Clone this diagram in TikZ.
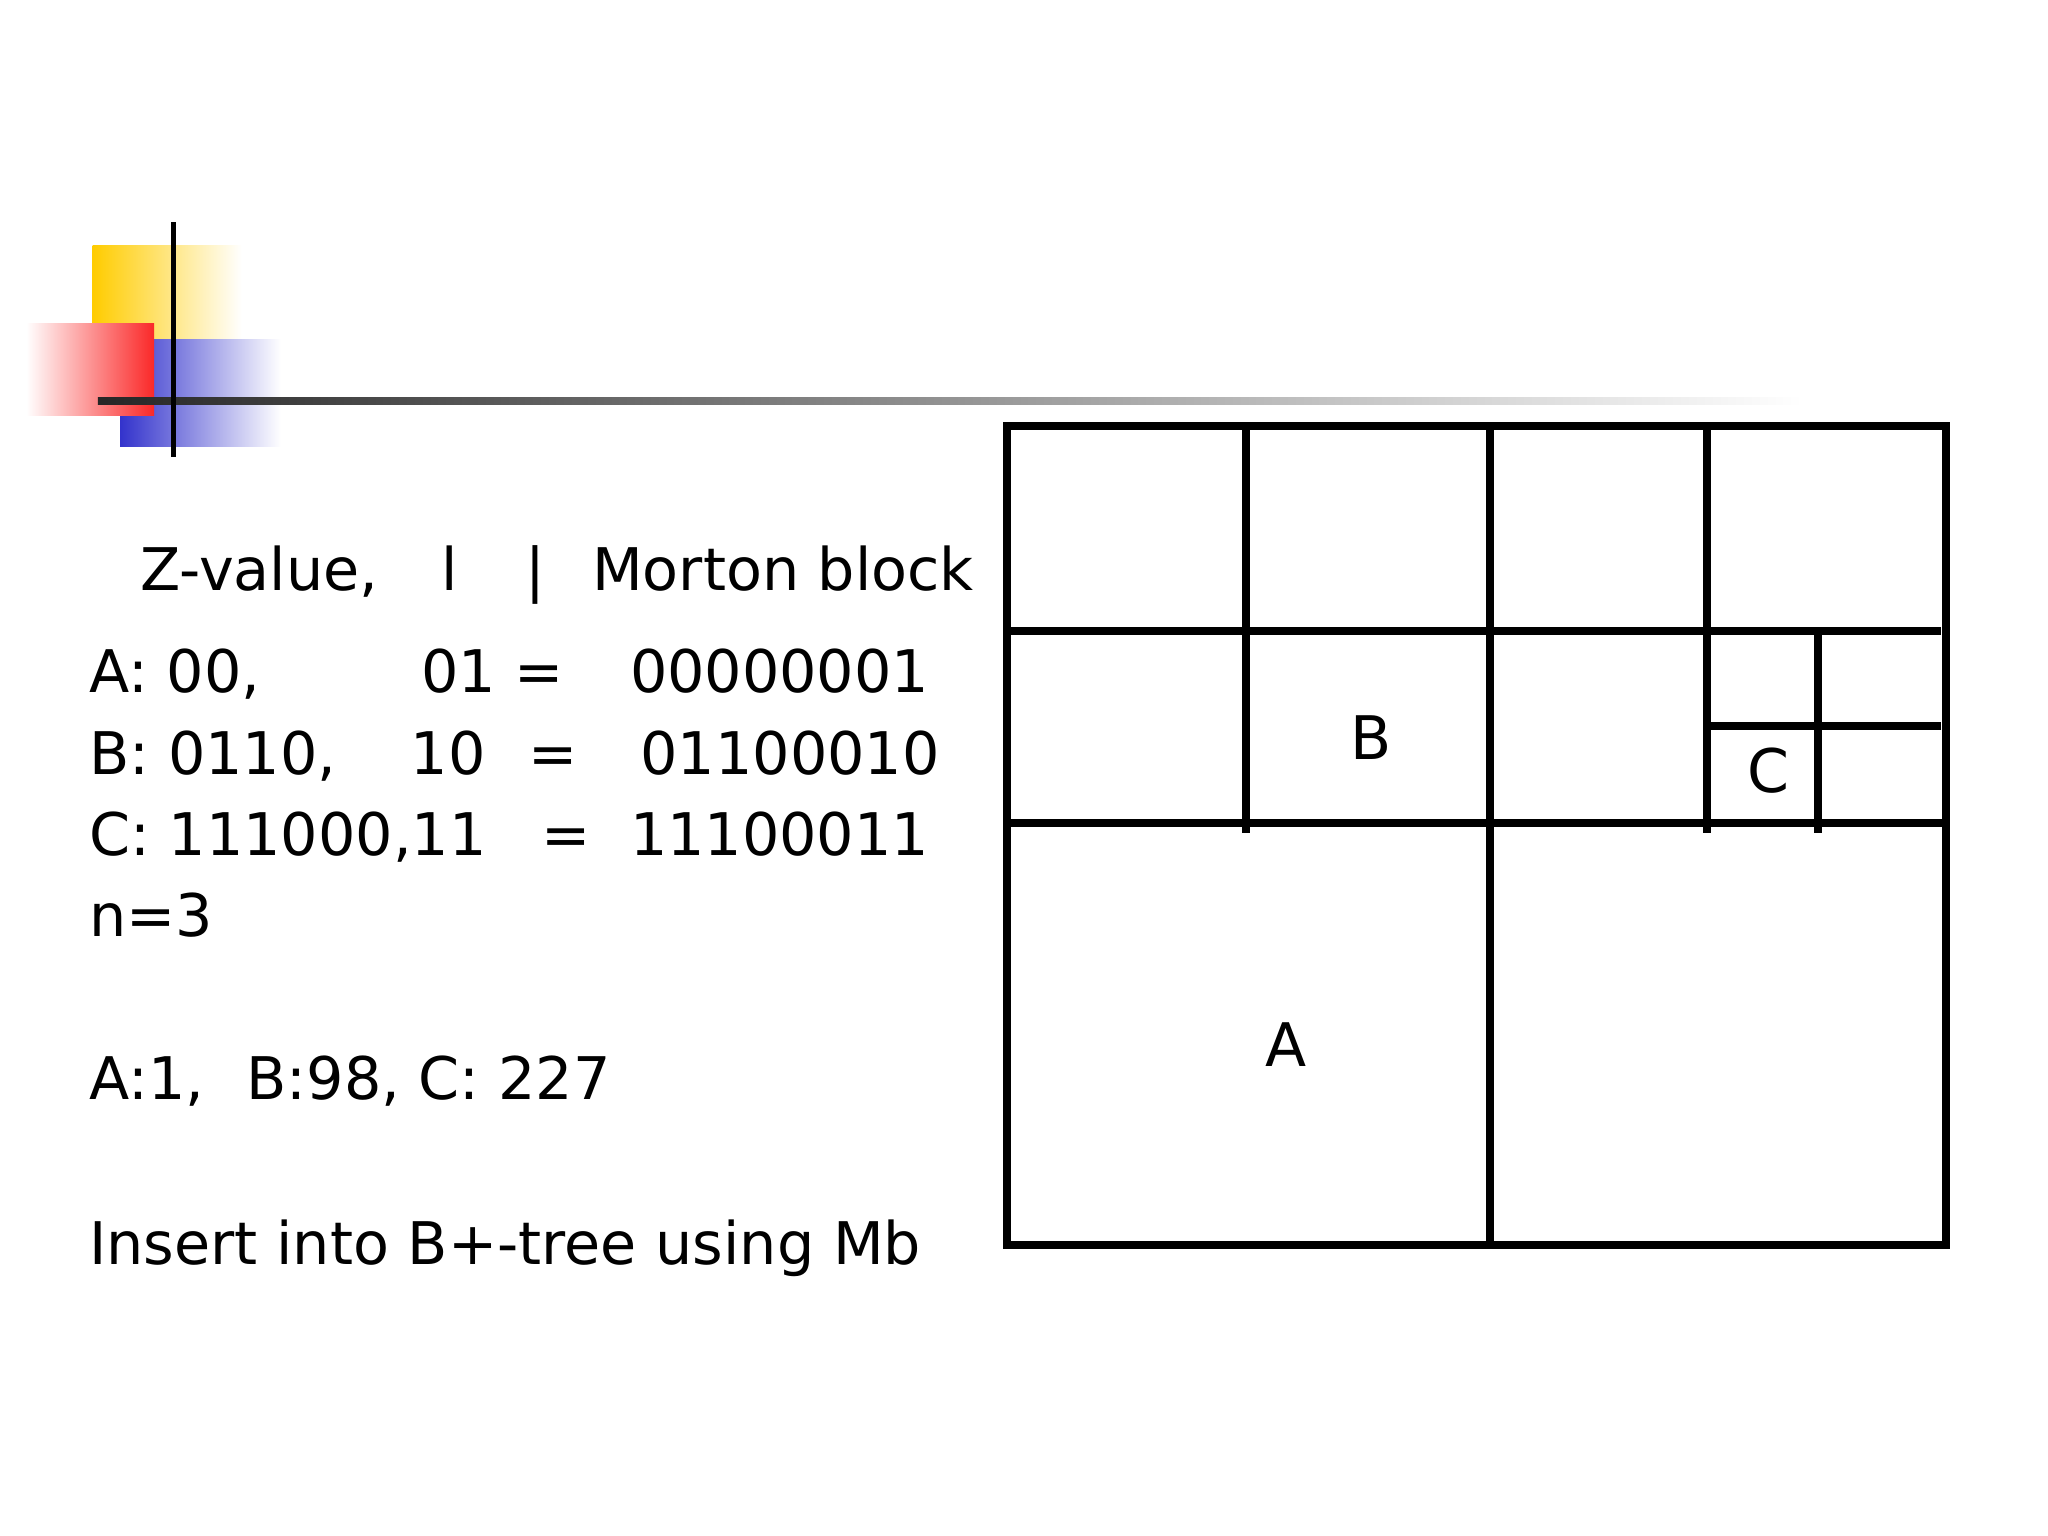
\documentclass[tikz,border=0pt]{standalone}
\usepackage{fontspec}
\setmainfont{DejaVu Sans}
\definecolor{logoyellow}{RGB}{255,204,0}
\definecolor{logoblue}{RGB}{51,51,204}
\definecolor{logored}{RGB}{250,40,40}
\begin{document}
\begin{tikzpicture}[x=0.5pt,y=-0.5pt,
  txt/.style={anchor=base west,inner sep=0pt,font=\fontsize{22.5}{26}\selectfont},
  lbl/.style={inner sep=0pt,font=\fontsize{23}{26}\selectfont},
  grid/.style={line width=3pt}]
\useasboundingbox (0,0) rectangle (1568,1176);
% logo
\shade[left color=logoyellow, right color=white] (71,188) rectangle (185,300);
\shade[left color=logoblue, right color=white] (92,260) rectangle (215,342);
\shade[left color=white, right color=logored] (20,248) rectangle (118,318);
\shade[left color=black!85, right color=white] (75,304) rectangle (1380,310);
\draw[line width=2pt] (133,170) -- (133,350);
% text
\node[txt] (h1) at (107,452) {Z-value,};
\node[txt] (h2) at (338,452) {l};
\node[txt] (h3) at (402,452) {|};
\node[txt] (h4) at (453,452) {Morton block};
\node[txt] (a1) at (68,530) {A: 00,};
\node[txt] (a2) at (322,530) {01 =};
\node[txt] (a3) at (482,530) {00000001};
\node[txt] (b1) at (68,593) {B: 0110,};
\node[txt] (b2) at (314,593) {10};
\node[txt] (b3) at (404,593) {=};
\node[txt] (b4) at (490,593) {01100010};
\node[txt] (c1) at (68,655) {C: 111000,11};
\node[txt] (c2) at (414,655) {=};
\node[txt] (c3) at (482,655) {11100011};
\node[txt] (n) at (68,717) {n=3};
\node[txt] (v) at (68,842) {A:1,\hspace{0.4em} B:98, C: 227};
\node[txt] (ins) at (68,968) {Insert into B+-tree using Mb};
% grid
\draw[grid] (771,326) rectangle (1490,953);
\draw[grid] (954,326) -- (954,638);
\draw[grid] (1141,326) -- (1141,953);
\draw[grid] (1307,326) -- (1307,638);
\draw[grid] (1392,486) -- (1392,638);
\draw[grid] (771,483) -- (1486,483);
\draw[grid] (771,630) -- (1490,630);
\draw[grid] (1307,556) -- (1486,556);
\node[lbl] (B) at (1050,565) {B};
\node[lbl] (C) at (1354,590) {C};
\node[lbl] (A) at (985,800) {A};
\end{tikzpicture}
\end{document}
